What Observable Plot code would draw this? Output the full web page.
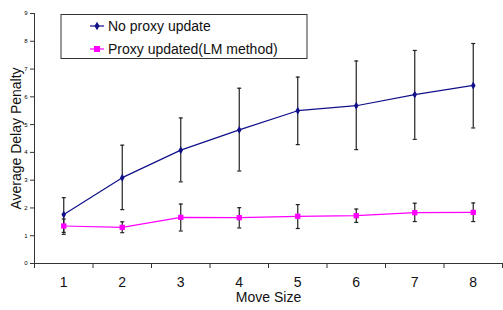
<!DOCTYPE html>
<html><head><meta charset="utf-8">
<script src="https://cdn.jsdelivr.net/npm/d3@7"></script>
<script src="https://cdn.jsdelivr.net/npm/@observablehq/plot@0.6"></script>
<style>body{margin:0;background:#fff;font-family:"Liberation Sans",Arial,sans-serif}</style>
</head><body><div id="chart"></div>
<script>
const moveSizes = [1, 2, 3, 4, 5, 6, 7, 8];
const noProxyMean = [1.76, 3.09, 4.08, 4.81, 5.50, 5.68, 6.08, 6.41];
const noProxyLow  = [1.12, 1.94, 2.94, 3.33, 4.28, 4.10, 4.47, 4.88];
const noProxyHigh = [2.37, 4.26, 5.24, 6.31, 6.71, 7.29, 7.67, 7.92];
const lmMean = [1.35, 1.30, 1.66, 1.65, 1.70, 1.72, 1.83, 1.84];
const lmLow  = [1.05, 1.11, 1.17, 1.28, 1.26, 1.48, 1.51, 1.51];
const lmHigh = [1.60, 1.50, 2.14, 2.01, 2.12, 1.96, 2.17, 2.18];
const yTicks = [0, 1, 2, 3, 4, 5, 6, 7, 8, 9];
const seriesNames = ["No proxy update", "Proxy updated(LM method)"];
const seriesColors = ["#10108a", "#ff00ff"];
const xLabel = "Move Size";
const yLabel = "Average Delay Penalty";

const blue = moveSizes.map((m, i) => ({x: m, y: noProxyMean[i], lo: noProxyLow[i], hi: noProxyHigh[i]}));
const pink = moveSizes.map((m, i) => ({x: m, y: lmMean[i], lo: lmLow[i], hi: lmHigh[i]}));
const boundaries = [0, ...moveSizes].map(m => m + 0.5);

const cap = {draw(ctx, size) { const r = Math.sqrt(size / Math.PI); ctx.moveTo(-r, 0); ctx.lineTo(r, 0); }};
const axisColor = "#333";

const plot = Plot.plot({
  width: 503, height: 310,
  marginLeft: 34, marginRight: 1, marginTop: 13, marginBottom: 47,
  style: {fontFamily: '"Liberation Sans", Arial, sans-serif', background: "#fff"},
  x: {domain: [0.5, 8.5]},
  y: {domain: [0, 9]},
  marks: [
    Plot.axisY({ticks: yTicks, tickSize: 4, tickPadding: 3, fontSize: 6, stroke: axisColor, label: null}),
    Plot.axisX({ticks: boundaries, tickSize: 5, tickFormat: () => "", stroke: axisColor, label: null}),
    Plot.axisX({ticks: moveSizes, tickSize: 0, tickPadding: 14, fontSize: 14, fill: "#111", label: null}),
    Plot.ruleX([0.5], {stroke: axisColor}),
    Plot.ruleY([0], {stroke: axisColor}),
    Plot.text([yLabel], {text: d => d, frameAnchor: "left", textAnchor: "middle", rotate: -90, dx: -18, fontSize: 14, fill: "#111"}),
    Plot.text([xLabel], {text: d => d, frameAnchor: "bottom", textAnchor: "middle", lineAnchor: "middle", dy: 34, fontSize: 14, fill: "#111"}),
    Plot.line(blue, {x: "x", y: "y", stroke: seriesColors[0], strokeWidth: 1.2}),
    Plot.line(pink, {x: "x", y: "y", stroke: seriesColors[1], strokeWidth: 1.2}),
    Plot.ruleX(blue, {x: "x", y1: "lo", y2: "hi", stroke: "#222", strokeWidth: 1.2}),
    Plot.ruleX(pink, {x: "x", y1: "lo", y2: "hi", stroke: "#222", strokeWidth: 1.2}),
    Plot.dot(blue, {x: "x", y: "lo", symbol: cap, r: 2, stroke: "#222", strokeWidth: 1.2}),
    Plot.dot(blue, {x: "x", y: "hi", symbol: cap, r: 2, stroke: "#222", strokeWidth: 1.2}),
    Plot.dot(pink, {x: "x", y: "lo", symbol: cap, r: 2, stroke: "#222", strokeWidth: 1.2}),
    Plot.dot(pink, {x: "x", y: "hi", symbol: cap, r: 2, stroke: "#222", strokeWidth: 1.2}),
    Plot.dot(blue, {x: "x", y: "y", symbol: "diamond", r: 2.4, fill: seriesColors[0]}),
    Plot.dot(pink, {x: "x", y: "y", symbol: "square", r: 3, fill: seriesColors[1]})
  ]
});
document.getElementById("chart").appendChild(plot);

// Legend box inside the plot area
const svg = d3.select(plot);
const lg = svg.append("g").attr("font-family", '"Liberation Sans", Arial, sans-serif').attr("text-anchor", "start");
lg.append("rect").attr("x", 61).attr("y", 14.5).attr("width", 246).attr("height", 44)
  .attr("fill", "#fff").attr("stroke", "#333").attr("stroke-width", 1);
seriesNames.forEach((name, i) => {
  const cy = 26 + i * 23;
  lg.append("line").attr("x1", 90).attr("x2", 104).attr("y1", cy).attr("y2", cy)
    .attr("stroke", seriesColors[i]).attr("stroke-width", 1.2);
  if (i === 0) {
    lg.append("path").attr("d", d3.symbol(d3.symbolDiamond, 22)()).attr("transform", `translate(97,${cy})`).attr("fill", seriesColors[i]);
  } else {
    lg.append("rect").attr("x", 94).attr("y", cy - 3).attr("width", 6).attr("height", 6).attr("fill", seriesColors[i]);
  }
  lg.append("text").attr("x", 108).attr("y", cy).attr("dy", "0.35em").attr("font-size", 14).attr("fill", "#111").text(name);
});
</script>
</body></html>
